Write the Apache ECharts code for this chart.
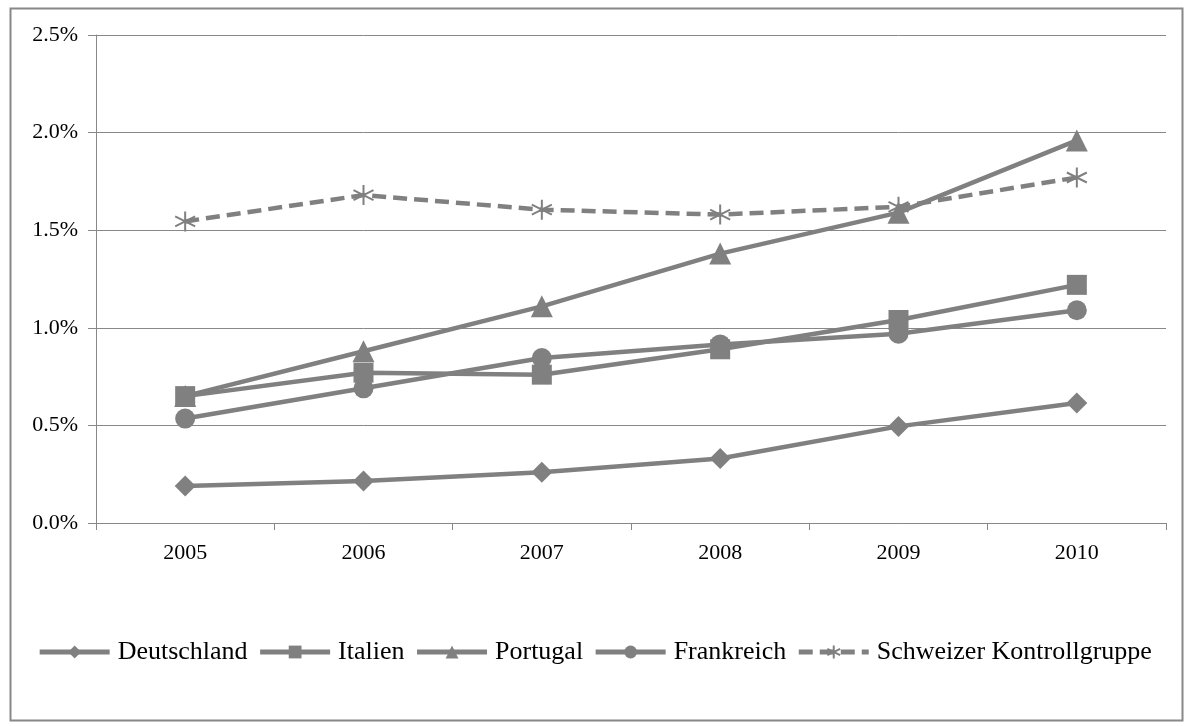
<!DOCTYPE html>
<html>
<head>
<meta charset="utf-8">
<script src="https://cdn.jsdelivr.net/npm/echarts@6/dist/echarts.min.js"></script>
<style>
  html, body { margin: 0; padding: 0; background: #fff; }
  #chart { width: 1189px; height: 726px; }
</style>
</head>
<body>
<div id="chart"></div>
<script>
  // years on the x axis
  var years = ['2005', '2006', '2007', '2008', '2009', '2010'];
  // values in percent
  var deutschland = [0.19, 0.215, 0.26, 0.33, 0.495, 0.615];
  var italien = [0.65, 0.77, 0.76, 0.89, 1.04, 1.22];
  var portugal = [0.65, 0.88, 1.11, 1.38, 1.59, 1.96];
  var frankreich = [0.535, 0.69, 0.845, 0.915, 0.97, 1.09];
  var schweiz = [1.545, 1.68, 1.605, 1.58, 1.62, 1.77];

  var grey = '#808080';
  var serif = 'Liberation Serif';
  var star = 'path://M10,0 L10,20 M1.34,5 L18.66,15 M1.34,15 L18.66,5';

  function line(name, data, symbol, size, dashed) {
    return {
      name: name,
      type: 'line',
      data: data,
      symbol: symbol,
      symbolSize: size,
      color: grey,
      lineStyle: { color: grey, width: 4.5, type: dashed ? [14, 7] : 'solid' },
      itemStyle: symbol === star
        ? { color: 'none', borderColor: grey, borderWidth: 2 }
        : { color: grey },
      emphasis: { disabled: true },
      animation: false
    };
  }

  var chart = echarts.init(document.getElementById('chart'));
  chart.setOption({
    backgroundColor: '#fff',
    animation: false,
    textStyle: { fontFamily: serif, color: '#000' },
    graphic: [{
      type: 'rect',
      left: 8, top: 6,
      shape: { width: 1172, height: 712 },
      style: { fill: 'none', stroke: '#888', lineWidth: 2 },
      silent: true
    }],
    grid: { left: 96, top: 35, right: 23, bottom: 203 },
    legend: {
      left: 'center',
      top: 634,
      itemWidth: 70,
      itemHeight: 16,
      itemGap: 10,
      lineStyle: { width: 5 },
      textStyle: { fontFamily: serif, fontSize: 26, color: '#000', padding: [0, 0, 0, 3] },
      data: ['Deutschland', 'Italien', 'Portugal', 'Frankreich', 'Schweizer Kontrollgruppe']
    },
    xAxis: {
      type: 'category',
      data: years,
      boundaryGap: true,
      axisLine: { lineStyle: { color: '#888', width: 1 } },
      axisTick: { show: true, length: 7, lineStyle: { color: '#888' } },
      axisLabel: { fontFamily: serif, fontSize: 22, color: '#000', margin: 19 }
    },
    yAxis: {
      type: 'value',
      min: 0,
      max: 2.5,
      interval: 0.5,
      axisLine: { show: true, lineStyle: { color: '#888', width: 1 } },
      axisTick: { show: true, length: 8, lineStyle: { color: '#888' } },
      splitLine: { lineStyle: { color: '#888', width: 1 } },
      axisLabel: {
        fontFamily: serif, fontSize: 22, color: '#000', margin: 18,
        formatter: function (v) { return v.toFixed(1) + '%'; }
      }
    },
    series: [
      line('Deutschland', deutschland, 'diamond', 21),
      line('Italien', italien, 'rect', 20),
      line('Portugal', portugal, 'triangle', 22),
      line('Frankreich', frankreich, 'circle', 20),
      line('Schweizer Kontrollgruppe', schweiz, star, 20, true)
    ]
  });
</script>
</body>
</html>
